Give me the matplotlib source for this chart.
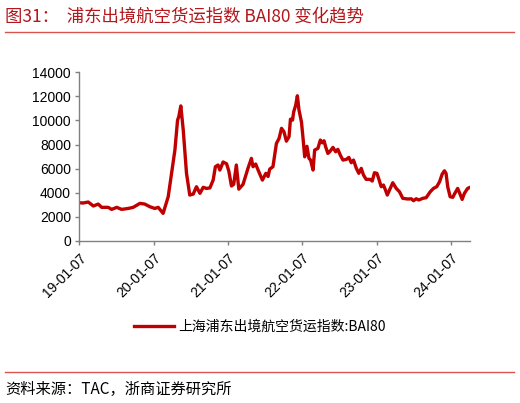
import matplotlib
matplotlib.use("Agg")
import matplotlib.pyplot as plt
import pandas as pd

dates = [
    "2019-01-07", "2019-01-25", "2019-02-20", "2019-03-17", "2019-04-10", "2019-04-27",
    "2019-05-29", "2019-06-15", "2019-07-10", "2019-08-03", "2019-09-05", "2019-09-29",
    "2019-11-01", "2019-11-25", "2019-12-20", "2020-01-13", "2020-01-30", "2020-02-23",
    "2020-03-19", "2020-04-21", "2020-05-04", "2020-05-10", "2020-05-20", "2020-06-01",
    "2020-06-17", "2020-07-03", "2020-07-20", "2020-08-05", "2020-08-22", "2020-09-07",
    "2020-09-23", "2020-10-10", "2020-10-26", "2020-11-06", "2020-11-19", "2020-11-28",
    "2020-12-14", "2020-12-31", "2021-01-11", "2021-01-24", "2021-02-04", "2021-02-17",
    "2021-03-01", "2021-03-22", "2021-04-16", "2021-05-02", "2021-05-10", "2021-05-23",
    "2021-06-04", "2021-06-25", "2021-07-12", "2021-07-23", "2021-07-31", "2021-08-16",
    "2021-09-02", "2021-09-15", "2021-09-27", "2021-10-09", "2021-10-21", "2021-11-03",
    "2021-11-10", "2021-11-20", "2021-11-26", "2021-12-06", "2021-12-14", "2021-12-22",
    "2022-01-03", "2022-01-11", "2022-01-19", "2022-01-30", "2022-02-09", "2022-02-17",
    "2022-03-01", "2022-03-09", "2022-03-25", "2022-04-06", "2022-04-16", "2022-04-24",
    "2022-05-02", "2022-05-13", "2022-05-22", "2022-06-07", "2022-06-20", "2022-07-01",
    "2022-07-13", "2022-07-26", "2022-08-12", "2022-08-24", "2022-09-05", "2022-09-16",
    "2022-09-30", "2022-10-12", "2022-10-24", "2022-11-04", "2022-11-17", "2022-12-07",
    "2022-12-17", "2022-12-28", "2023-01-09", "2023-01-19", "2023-01-30", "2023-02-10",
    "2023-02-20", "2023-03-01", "2023-03-12", "2023-03-28", "2023-04-14", "2023-04-30",
    "2023-05-16", "2023-06-10", "2023-06-27", "2023-07-08", "2023-07-21", "2023-08-03",
    "2023-08-23", "2023-09-08", "2023-09-28", "2023-10-14", "2023-10-30", "2023-11-13",
    "2023-11-26", "2023-12-07", "2023-12-15", "2023-12-23", "2024-01-04", "2024-01-17",
    "2024-01-25", "2024-02-10", "2024-02-19", "2024-03-03", "2024-03-14", "2024-03-30",
    "2024-04-11",
]
values = [
    3170, 3150, 3230, 2900, 3060, 2790,
    2790, 2620, 2790, 2620, 2700, 2790,
    3120, 3060, 2840, 2700, 2790, 2290,
    3670, 7540, 10020, 10300, 11200, 9200,
    5610, 3810, 3890, 4500, 3950, 4450,
    4360, 4400, 5050, 6160, 6300, 5880,
    6550, 6400, 5800, 4560, 4700, 6300,
    4300, 4700, 6070, 6850, 6160, 6380,
    5880, 5050, 5610, 5350, 5960, 6160,
    8090, 8500, 9340, 9060, 8280, 8640,
    10100, 10020, 10710, 11270, 12040, 10850,
    9880, 8500, 6980, 7850, 6850, 6710,
    5880, 7540, 7680, 8370, 8140, 8310,
    7810, 7260, 7400, 7760, 7400, 7600,
    7120, 6710, 6770, 6930, 6490, 6710,
    6020, 5610, 6020, 5470, 5110, 5110,
    4970, 5660, 5610, 5110, 4500, 4640,
    4230, 3810, 4230, 4830, 4360, 4080,
    3540, 3480, 3500, 3340, 3500, 3400,
    3540, 3590, 4080, 4360, 4500, 4910,
    5550, 5820, 5600, 4500, 3670, 3620,
    3890, 4360, 4000, 3450, 3950, 4360,
    4450,
]
tick_labels = ["19-01-07", "20-01-07", "21-01-07", "22-01-07", "23-01-07", "24-01-07"]
tick_dates = ["2019-01-07", "2020-01-07", "2021-01-07", "2022-01-07", "2023-01-07", "2024-01-07"]
series_name = "上海浦东出境航空货运指数:BAI80"
title_text = "图31：  浦东出境航空货运指数 BAI80 变化趋势"
source_text = "资料来源：TAC，浙商证券研究所"

plt.rcParams['font.family'] = ['Liberation Sans', 'Noto Sans CJK SC', 'DejaVu Sans']
cjk = ['Noto Sans CJK SC', 'DejaVu Sans']

x = pd.to_datetime(dates)
fig = plt.figure(figsize=(5.2, 4.03), dpi=100)
ax = fig.add_axes([0.1525, 0.402, 0.7515, 0.419])

line_color = "#C00000"
ax.plot(x, values, color=line_color, lw=2.4, solid_joinstyle="round", label=series_name)

ax.set_ylim(0, 14000)
ax.set_yticks(range(0, 14001, 2000))
ax.set_xlim(x[0], x[-1])
ax.set_xticks(pd.to_datetime(tick_dates))
ax.set_xticklabels(tick_labels, rotation=45, ha="right", rotation_mode="anchor")

for s in ["top", "right"]:
    ax.spines[s].set_visible(False)
for s in ["left", "bottom"]:
    ax.spines[s].set_color("#808080")
    ax.spines[s].set_linewidth(1.0)
ax.tick_params(axis="both", colors="#808080", labelcolor="#000000", labelsize=10,
               length=3, width=1.0, direction="out")
ax.tick_params(axis="x", pad=4)
ax.tick_params(axis="y", pad=3)

fig.legend(handles=ax.get_lines(), labels=[series_name], loc="center",
           bbox_to_anchor=(0.5, 1 - 327 / 403), frameon=False,
           handlelength=2.9, handletextpad=0.3,
           prop={'family': cjk, 'size': 10})

fig.text(0.01, 1 - 16 / 403, title_text, color="#B3161B", fontsize=12.5,
         va="center", ha="left", family=cjk)
fig.add_artist(plt.Line2D([0.01, 0.988], [1 - 31.5 / 403] * 2, color="#D9534F", lw=1.0))
fig.add_artist(plt.Line2D([0.01, 0.988], [1 - 372 / 403] * 2, color="#D9534F", lw=1.0))
fig.text(0.01, 1 - 389 / 403, source_text, color="#000000", fontsize=11,
         va="center", ha="left", family=cjk)

fig.savefig("out.png", dpi=100)
